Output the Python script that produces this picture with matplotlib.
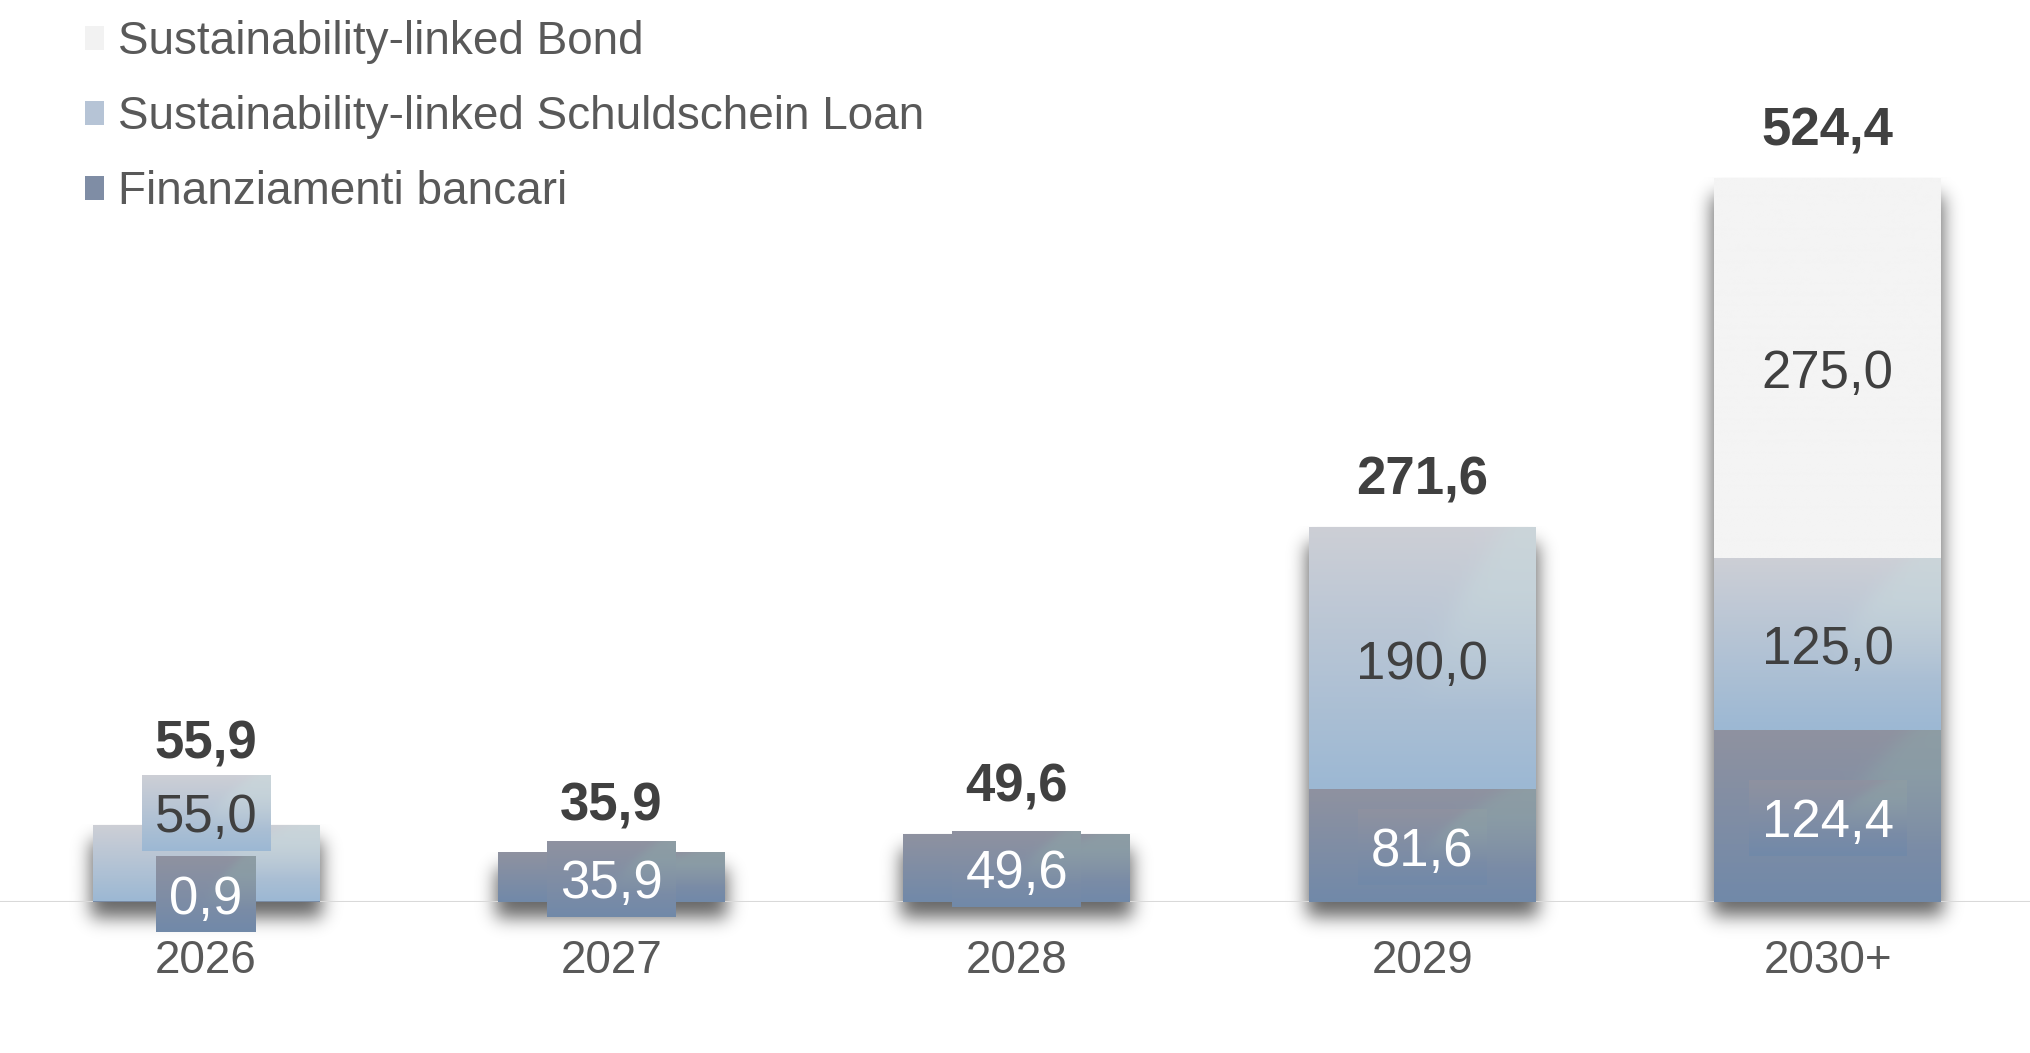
import math
import numpy as np
import matplotlib.pyplot as plt
from matplotlib.patches import Patch
from matplotlib.colors import to_rgb

plt.rcParams['font.family'] = ['Liberation Sans', 'DejaVu Sans']

# values (mln euro)
categories = ['2026', '2027', '2028', '2029', '2030+']
fin_bancari = [0.9, 35.9, 49.6, 81.6, 124.4]
schuldschein = [55.0, 0.0, 0.0, 190.0, 125.0]
sl_bond = [0.0, 0.0, 0.0, 0.0, 275.0]
totals = [55.9, 35.9, 49.6, 271.6, 524.4]

series_names = ['Finanziamenti bancari', 'Sustainability-linked Schuldschein Loan',
                'Sustainability-linked Bond']

# top colour, bottom colour, swoosh tint, label colour
styles = {
    'Finanziamenti bancari': ('#8F92A0', '#7189A9', '#8CA7A8', 'white'),
    'Sustainability-linked Schuldschein Loan': ('#CDCFD6', '#9CB8D3', '#C9DBDD', '#404040'),
    'Sustainability-linked Bond': ('#F4F4F4', '#F4F4F4', '#F4F4F4', '#404040'),
}
legend_colors = ['#7F8DA5', '#B6C4D6', '#F2F2F2']

# 2026 labels are nudged so they do not overlap (points)
label_nudge = {(0, 0): 6, (0, 1): 37}
TEXT_DROP = 4.7  # glyphs sit a bit lower than matplotlib's centred box (points)

W, H, DPI = 2031, 1053, 100
PX_X = 405.4   # pixels per category step
PX_Y = 1.381   # pixels per unit


def gradient(top, bottom, tint, ny=160, nx=60):
    top, bottom, tint = (np.array(to_rgb(c)) for c in (top, bottom, tint))
    v = np.linspace(1, 0, ny)[:, None, None]
    u = np.linspace(0, 1, nx)[None, :, None]
    base = bottom * (1 - v) + top * v
    curve = 0.45 + 0.42 * v ** 2
    w = np.clip((v - 0.3) / 0.45, 0, 1)
    mask = w / (1 + np.exp(-(u - curve) / 0.03))
    img = base * (1 - 0.5 * mask) + tint * 0.5 * mask
    return np.clip(img, 0, 1)


erf = np.vectorize(math.erf)


def shadow(ax, x0, x1, top):
    # soft drop shadow under a bar, built in pixel units then mapped to data
    pad_x, pad_y = 40, 45
    xs = np.linspace(-pad_x, (x1 - x0) * PX_X + pad_x, 120)
    ys = np.linspace(top * PX_Y, -pad_y, 160)
    L, R = -3, (x1 - x0) * PX_X + 3
    B, T = -16, top * PX_Y - 16
    s = 9 * math.sqrt(2)
    fx = 0.5 * (erf((xs - L) / s) - erf((xs - R) / s))
    fy = 0.5 * (erf((ys - B) / s) - erf((ys - T) / s))
    a = 0.6 * fy[:, None] * fx[None, :]
    img = np.zeros((len(ys), len(xs), 4))
    img[..., 3] = a
    ax.imshow(img, extent=[x0 - pad_x / PX_X, x1 + pad_x / PX_X, -pad_y / PX_Y, top],
              aspect='auto', origin='upper', zorder=1, clip_on=False, interpolation='bilinear')


fig = plt.figure(figsize=(W / DPI, H / DPI), dpi=DPI)
base_px = 151
ax = fig.add_axes([0, base_px / H, 1, 1 - base_px / H])
x = np.arange(len(categories))
bar_w = 0.559

stack = [fin_bancari, schuldschein, sl_bond]
bottoms = np.zeros(len(categories))
seg_info = []
for si, (name, vals) in enumerate(zip(series_names, stack)):
    vals = np.array(vals)
    bars = ax.bar(x, vals, bar_w, bottom=bottoms, color='none', edgecolor='none', zorder=3)
    top, bot, tint, _ = styles[name]
    for ci, (b, v) in enumerate(zip(bars, vals)):
        if v <= 0:
            continue
        x0, y0 = b.get_x(), b.get_y()
        im = ax.imshow(gradient(top, bot, tint), extent=[x0, x0 + b.get_width(), y0, y0 + v],
                       aspect='auto', origin='upper', zorder=3, interpolation='bilinear')
        im.set_clip_path(b)
        seg_info.append((ci, si, x0 + b.get_width() / 2, y0 + v / 2, v))
    bottoms = bottoms + vals

for ci in range(len(categories)):
    shadow(ax, x[ci] - bar_w / 2, x[ci] + bar_w / 2, totals[ci])

ax.axhline(0, color='#D9D9D9', lw=2.2, zorder=2)

texts = []
for ci, si, xc, yc, v in seg_info:
    name = series_names[si]
    top, bot, tint, lc = styles[name]
    t = ax.annotate(f'{v:.1f}'.replace('.', ','), (xc, yc),
                    xytext=(0, label_nudge.get((ci, si), 0) - TEXT_DROP),
                    textcoords='offset points', ha='center', va='center', fontsize=38,
                    color=lc, zorder=6,
                    bbox=dict(boxstyle='square,pad=0.245', fc='none', ec='none'))
    texts.append((t, ci, si, v))

ax.set_xlim(-206 / PX_X, -206 / PX_X + W / PX_X)
ax.set_ylim(0, (H - base_px) / PX_Y)
ax.set_xticks(x, categories)
ax.tick_params(axis='x', length=0, pad=26.5, labelsize=33, labelcolor='#595959')
ax.set_yticks([])
for sp in ax.spines.values():
    sp.set_visible(False)

fig.canvas.draw()
inv = ax.transData.inverted()
lift = TEXT_DROP * DPI / 72 - 1.5
box_tops = {}
for t, ci, si, v in texts:
    ext = t.get_bbox_patch().get_window_extent()
    (bx0, by0), (bx1, by1) = inv.transform([[ext.x0, ext.y0 + lift], [ext.x1, ext.y1 + lift]])
    box_tops[ci] = max(box_tops.get(ci, 0), ext.y1 + lift)
    seg_px = v * PX_Y
    if series_names[si] == 'Finanziamenti bancari' or seg_px < ext.height * 1.3:
        top, bot, tint, _ = styles[series_names[si]]
        ax.imshow(gradient(top, bot, tint), extent=[bx0, bx1, by0, by1], aspect='auto',
                  origin='upper', zorder=5, interpolation='bilinear', clip_on=False)

for ci, tot in enumerate(totals):
    bar_top = ax.transData.transform((x[ci], tot))[1]
    y_px = max(bar_top + 46, box_tops.get(ci, 0) + 30)
    y_data = inv.transform((0, y_px))[1]
    ax.text(x[ci], y_data, f'{tot:.1f}'.replace('.', ','), ha='center', va='center',
            fontsize=38, fontweight='bold', color='#404040', zorder=7)

ax.set_xlim(-206 / PX_X, -206 / PX_X + W / PX_X)
ax.set_ylim(0, (H - base_px) / PX_Y)

handles = [Patch(facecolor=c, edgecolor='none') for c in legend_colors[::-1]]
fig.legend(handles, series_names[::-1], loc='upper left', bbox_to_anchor=(85 / W, 1 - 20 / H),
           frameon=False, fontsize=33, labelcolor='#595959', handlelength=0.42, handleheight=0.42,
           handletextpad=0.3, labelspacing=0.68, borderpad=0, borderaxespad=0)

fig.savefig('out.png', dpi=DPI)
